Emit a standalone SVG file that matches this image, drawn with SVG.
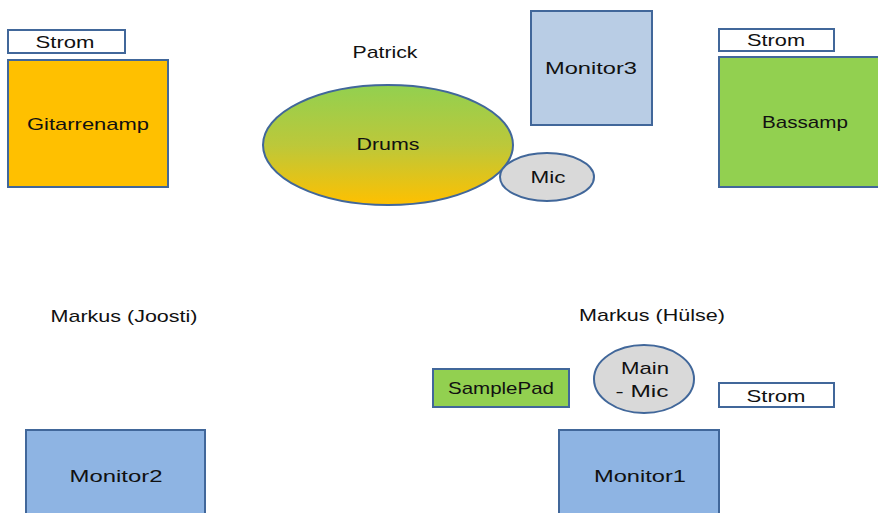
<svg xmlns="http://www.w3.org/2000/svg" width="878" height="513" viewBox="0 0 878 513">
<defs>
<linearGradient id="drumGrad" x1="0" y1="0" x2="0" y2="1">
<stop offset="0" stop-color="#92D050"/>
<stop offset="0.5" stop-color="#BCC83A"/>
<stop offset="1" stop-color="#FFC000"/>
</linearGradient>
<style>
.shape{stroke:#41679A;stroke-width:2}
.t{font-family:"Liberation Sans",Arial,sans-serif;font-size:17px;fill:#111;text-anchor:middle}
</style>
</defs>
<rect width="878" height="513" fill="#fff"/>
<g id="strom1"><rect class="shape" x="8" y="30" width="117" height="23" fill="#fff"/><text class="t" x="65" y="48" textLength="59" lengthAdjust="spacingAndGlyphs">Strom</text></g>
<g id="gitarrenamp"><rect class="shape" x="8" y="60" width="160" height="127" fill="#FFC000"/><text class="t" x="88" y="130" textLength="122" lengthAdjust="spacingAndGlyphs">Gitarrenamp</text></g>
<g id="patrick"><text class="t" x="385" y="58" textLength="65" lengthAdjust="spacingAndGlyphs">Patrick</text></g>
<g id="drums"><ellipse class="shape" cx="388" cy="145" rx="125" ry="60" fill="url(#drumGrad)"/><text class="t" x="388" y="150" textLength="63" lengthAdjust="spacingAndGlyphs">Drums</text></g>
<g id="mic"><ellipse class="shape" cx="547" cy="177" rx="47" ry="24" fill="#D9D9D9"/><text class="t" x="548" y="183" textLength="35" lengthAdjust="spacingAndGlyphs">Mic</text></g>
<g id="monitor3"><rect class="shape" x="531" y="11" width="121" height="114" fill="#B9CDE5"/><text class="t" x="591" y="74" textLength="92" lengthAdjust="spacingAndGlyphs">Monitor3</text></g>
<g id="strom2"><rect class="shape" x="719" y="29" width="115" height="22" fill="#fff"/><text class="t" x="776" y="46" textLength="58" lengthAdjust="spacingAndGlyphs">Strom</text></g>
<g id="bassamp"><rect class="shape" x="719" y="57" width="170" height="130" fill="#92D050"/><text class="t" x="805" y="128" textLength="86" lengthAdjust="spacingAndGlyphs">Bassamp</text></g>
<g id="markus-joosti"><text class="t" x="124" y="322" textLength="147" lengthAdjust="spacingAndGlyphs">Markus (Joosti)</text></g>
<g id="markus-huelse"><text class="t" x="652" y="321" textLength="146" lengthAdjust="spacingAndGlyphs">Markus (Hülse)</text></g>
<g id="samplepad"><rect class="shape" x="433" y="369" width="136" height="38" fill="#92D050"/><text class="t" x="501" y="394" textLength="106" lengthAdjust="spacingAndGlyphs">SamplePad</text></g>
<g id="main-mic"><ellipse class="shape" cx="644" cy="379" rx="50" ry="34" fill="#D9D9D9"/><text class="t" x="645" y="374" textLength="48" lengthAdjust="spacingAndGlyphs">Main</text><text class="t" x="642" y="397" textLength="53" lengthAdjust="spacingAndGlyphs">- Mic</text></g>
<g id="strom3"><rect class="shape" x="719" y="383" width="115" height="24" fill="#fff"/><text class="t" x="776" y="402" textLength="59" lengthAdjust="spacingAndGlyphs">Strom</text></g>
<g id="monitor1"><rect class="shape" x="559" y="430" width="160" height="95" fill="#8EB4E3"/><text class="t" x="640" y="482" textLength="92" lengthAdjust="spacingAndGlyphs">Monitor1</text></g>
<g id="monitor2"><rect class="shape" x="26" y="430" width="179" height="95" fill="#8EB4E3"/><text class="t" x="116" y="482" textLength="93" lengthAdjust="spacingAndGlyphs">Monitor2</text></g>
<g id="connectors"></g>
</svg>
